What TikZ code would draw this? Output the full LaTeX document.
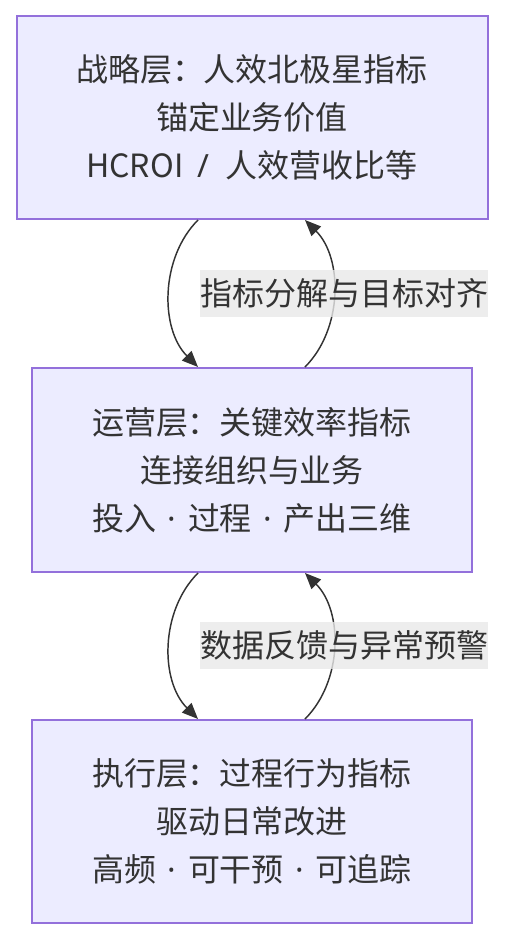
\documentclass[tikz,border=0pt]{standalone}
\usepackage{fontspec}
\newfontfamily\cjk{Noto Sans CJK SC}
\newfontfamily\latin{Noto Sans}
\usepackage{tikz}
\usetikzlibrary{calc}
\usetikzlibrary{arrows.meta}

\definecolor{layerfill}{RGB}{236,236,255}
\definecolor{layerline}{RGB}{147,112,219}
\definecolor{ink}{RGB}{51,51,51}
\definecolor{labelbg}{RGB}{232,232,232}

\newcommand{\sepdot}{{\latin\hspace{0.36em}·\hspace{0.36em}}}

\tikzset{
  layer/.style={draw=layerline, line width=1.5pt, fill=layerfill, text=ink, align=center,
    inner sep=0pt, font=\cjk\fontsize{24}{36}\selectfont},
  flow/.style={draw=ink, line width=1.1pt, -{Triangle[length=12pt,width=10pt]}},
  flowlabel/.style={fill=labelbg, fill opacity=0.8, text opacity=1, text=ink, inner xsep=0pt,
    minimum height=35.25pt, font=\cjk\fontsize{24}{36}\selectfont}
}

\begin{document}
\begin{tikzpicture}[x=0.75pt,y=0.75pt,yscale=-1]
\useasboundingbox (0,0) rectangle (504,940);

% Shape: Rectangle [strategy layer]
\node [layer, minimum width=353.25pt, minimum height=152.25pt] (strat) at (252,117.5)
  {战略层：人效北极星指标\\锚定业务价值\\HCROI{\latin\hspace{0.45em}/\hspace{0.5em}}人效营收比等};
% Shape: Rectangle [operation layer]
\node [layer, minimum width=330pt, minimum height=153pt] (oper) at (252,470)
  {运营层：关键效率指标\\连接组织与业务\\投入\sepdot 过程\sepdot 产出三维};
% Shape: Rectangle [execution layer]
\node [layer, minimum width=330pt, minimum height=152.25pt] (exec) at (252,821.5)
  {执行层：过程行为指标\\驱动日常改进\\高频\sepdot 可干预\sepdot 可追踪};

% Curve Lines
\draw [flow] ($(strat.south)+(-54,0)$) .. controls +(-38,38) and +(-38,-38) .. ($(oper.north)+(-54,0)$);
\draw [flow] ($(oper.north)+(53,0)$) .. controls +(38,-38) and +(38,38) .. ($(strat.south)+(53,0)$);
\draw [flow] ($(oper.south)+(-54,0)$) .. controls +(-38,38) and +(-38,-38) .. ($(exec.north)+(-54,0)$);
\draw [flow] ($(exec.north)+(53,0)$) .. controls +(38,-38) and +(38,38) .. ($(oper.south)+(53,0)$);

% Text Node
\node [flowlabel] (down) at (344,293.5) {指标分解与目标对齐};
% Text Node
\node [flowlabel] (up) at (344,645.5) {数据反馈与异常预警};
\end{tikzpicture}
\end{document}
